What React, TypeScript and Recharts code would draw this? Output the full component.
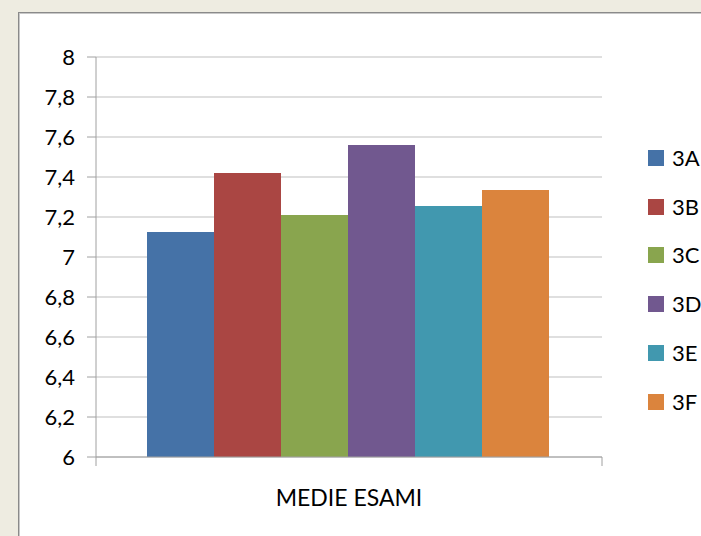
import { Bar, BarChart, CartesianGrid, XAxis, YAxis } from "recharts";

const categories = ["MEDIE ESAMI"];
const seriesNames = ["3A", "3B", "3C", "3D", "3E", "3F"];
const seriesValues = [7.125, 7.42, 7.21, 7.56, 7.255, 7.335];
const yTicks = [6, 6.2, 6.4, 6.6, 6.8, 7, 7.2, 7.4, 7.6, 7.8, 8];

const seriesColors = ["#4572A7", "#AA4643", "#89A54E", "#71588F", "#4198AF", "#DB843D"];

const FONT = "Lato, 'Open Sans', sans-serif";
const GRID = "#bfbfbf";
const AXIS = "#a0a0a0";

const chartData = categories.map((name) => {
  const row: Record<string, string | number> = { name };
  seriesNames.forEach((s, i) => {
    row[s] = seriesValues[i];
  });
  return row;
});

const formatTick = (v: number) => String(Math.round(v * 10) / 10).replace(".", ",");

export default function App() {
  return (
    <div style={{ position: "relative", width: 701, height: 536, background: "#EEECE1", overflow: "hidden" }}>
      <style>{"body{margin:0}"}</style>
      <div
        style={{
          position: "absolute",
          left: 18,
          top: 12,
          width: 720,
          height: 560,
          background: "#fff",
          border: "1px solid #8a8a8a",
          boxShadow: "inset 1px 1px 0 #c8c8c8",
        }}
      />
      <div style={{ position: "absolute", left: 0, top: 0 }}>
        <BarChart
          width={701}
          height={536}
          data={chartData}
          margin={{ top: 57, right: 99, bottom: 77, left: 0 }}
          barCategoryGap={51}
          barGap={0}
          style={{ fontFamily: FONT }}
        >
          <CartesianGrid vertical={false} stroke={GRID} />
          <YAxis
            type="number"
            domain={[6, 8]}
            ticks={yTicks}
            interval={0}
            width={96}
            tickSize={9}
            tickMargin={12}
            tickFormatter={formatTick}
            axisLine={{ stroke: AXIS }}
            tickLine={{ stroke: AXIS }}
            tick={{ fontSize: 22, fill: "#000", fontFamily: FONT }}
          />
          {/* edge axis: draws the baseline and the two boundary tick marks */}
          <XAxis
            xAxisId={0}
            type="number"
            scale="linear"
            dataKey={() => 0}
            domain={[0, 1]}
            ticks={[0, 1]}
            interval={0}
            allowDataOverflow
            height={1}
            tickSize={9}
            axisLine={{ stroke: AXIS }}
            tickLine={{ stroke: AXIS }}
            tick={() => <g />}
          />
          <XAxis
            xAxisId={1}
            dataKey="name"
            height={1}
            tickSize={0}
            tickMargin={32}
            axisLine={false}
            tickLine={false}
            tick={{ fontSize: 23, fill: "#000", fontFamily: FONT }}
          />
          {seriesNames.map((s, i) => (
            <Bar key={s} xAxisId={1} dataKey={s} fill={seriesColors[i]} isAnimationActive={false} />
          ))}
        </BarChart>
      </div>
      <div style={{ position: "absolute", left: 648, top: 133.5, fontFamily: FONT, fontSize: 22, color: "#000" }}>
        {seriesNames.map((s, i) => (
          <div key={s} style={{ height: 48.8, display: "flex", alignItems: "center" }}>
            <span style={{ width: 16, height: 16, background: seriesColors[i], display: "inline-block", marginRight: 8 }} />
            <span style={{ lineHeight: 1 }}>{s}</span>
          </div>
        ))}
      </div>
    </div>
  );
}
